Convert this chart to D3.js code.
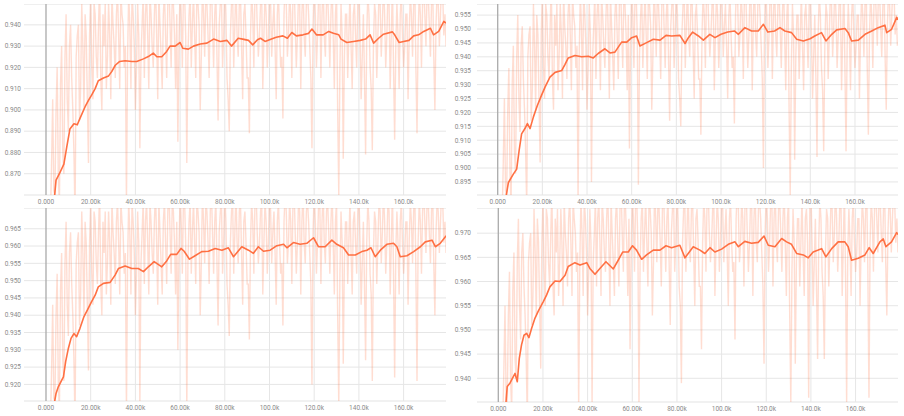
<!DOCTYPE html>
<html>
<head>
<meta charset="utf-8">
<script src="https://cdn.jsdelivr.net/npm/d3@7"></script>
<style>
  html, body { margin: 0; padding: 0; background: #fff; }
  svg { display: block; }
</style>
</head>
<body>
<svg id="chart" width="904" height="416"></svg>
<script>
// ---------------- DATA (steps in thousands) ----------------
const rawSteps = d3.range(2, 180); // logged steps 2k .. 179k (whole thousands)
const midStart = 2.5;              // logged steps 2.5k .. 178.5k (half thousands)
const xTicks = [0, 20, 40, 60, 80, 100, 120, 140, 160];

// Panel 1 (top-left)
const yTicks1 = [0.870, 0.880, 0.890, 0.900, 0.910, 0.920, 0.930, 0.940];
const smoothSteps1 = [3.6,4.5,6,8,9.3,10.7,12.5,14,15.2,17.5,19,20.4,22,23.4,25.7,28,29.4,31,33,35.4,38.4,40.6,43.6,45.8,48,49.6,51.8,54,55.5,57.8,60,61.2,63.7,66,69,72,75,78,81,83,86,88,90.6,92.5,94.6,96,98,100,103,106,108,110,112,115,117.5,119,121,124,126.5,128.6,131,132,134.6,137.6,140.6,143,145,146.6,148.8,151,155,156,158,160,162.4,164.5,166.7,169,172,173.4,175.7,178,179];
const smoothVals1 = [0.857,0.867,0.870,0.8745,0.8826,0.891,0.8935,0.893,0.896,0.9015,0.9045,0.907,0.910,0.9137,0.915,0.916,0.918,0.921,0.9228,0.9231,0.9228,0.9228,0.924,0.9251,0.9267,0.925,0.925,0.9275,0.930,0.930,0.9317,0.929,0.9286,0.930,0.931,0.9314,0.9333,0.9322,0.9327,0.930,0.9337,0.9333,0.9327,0.9306,0.933,0.9337,0.9322,0.933,0.9342,0.9348,0.9337,0.9364,0.9348,0.9353,0.936,0.938,0.9353,0.9353,0.9369,0.936,0.9353,0.9333,0.9317,0.9322,0.9327,0.9333,0.9353,0.9314,0.9337,0.9356,0.9367,0.9353,0.9317,0.9322,0.9327,0.9348,0.9353,0.9369,0.9384,0.9353,0.9369,0.9416,0.9408];
const rawVals1 = [0.850,0.905,0.860,0.920,0.855,0.930,0.870,0.945,0.890,0.940,0.900,0.850,0.935,0.895,0.950,0.900,0.935,0.875,0.955,0.905,0.945,0.915,0.960,0.900,0.930,0.910,0.950,0.905,0.940,0.915,0.955,0.910,0.945,0.920,0.855,0.955,0.910,0.945,0.900,0.950,0.882,0.940,0.915,0.955,0.910,0.945,0.920,0.960,0.905,0.940,0.910,0.955,0.915,0.960,0.920,0.950,0.910,0.885,0.960,0.920,0.955,0.875,0.945,0.920,0.955,0.915,0.950,0.900,0.960,0.925,0.950,0.915,0.960,0.920,0.955,0.895,0.950,0.920,0.960,0.915,0.890,0.950,0.920,0.960,0.925,0.955,0.905,0.950,0.915,0.889,0.955,0.920,0.960,0.925,0.950,0.910,0.955,0.920,0.960,0.925,0.950,0.905,0.955,0.920,0.896,0.960,0.925,0.955,0.915,0.960,0.920,0.955,0.910,0.960,0.925,0.955,0.930,0.882,0.960,0.920,0.955,0.915,0.960,0.925,0.955,0.920,0.960,0.910,0.955,0.860,0.950,0.877,0.945,0.915,0.955,0.910,0.950,0.920,0.960,0.905,0.945,0.879,0.955,0.920,0.881,0.950,0.915,0.955,0.925,0.960,0.920,0.955,0.910,0.960,0.886,0.950,0.910,0.955,0.920,0.945,0.905,0.955,0.925,0.960,0.889,0.955,0.920,0.960,0.930,0.955,0.925,0.960,0.900,0.955,0.930,0.960,0.935,0.930];
const midVals1 = [0.875,0.862,0.900,0.870,0.912,0.880,0.925,0.905,0.930,0.915,
  0.880,0.925,0.940,0.910,0.930,0.945,0.905,0.935,0.920,0.950,
  0.925,0.940,0.915,0.945,0.950,0.925,0.935,0.955,0.930,0.945,
  0.935,0.955,0.940,0.930,0.925,0.940,0.955,0.930,0.920,0.935,
  0.925,0.955,0.945,0.935,0.955,0.930,0.945,0.935,0.955,0.925,
  0.945,0.935,0.950,0.940,0.955,0.935,0.945,0.930,0.945,0.955,
  0.935,0.925,0.955,0.940,0.935,0.955,0.940,0.925,0.945,0.955,
  0.935,0.950,0.940,0.945,0.925,0.940,0.955,0.935,0.945,0.905,
  0.935,0.955,0.940,0.935,0.950,0.930,0.945,0.935,0.915,0.935,
  0.945,0.955,0.940,0.935,0.955,0.935,0.945,0.935,0.950,0.940,
  0.930,0.945,0.935,0.925,0.945,0.950,0.935,0.945,0.955,0.940,
  0.935,0.950,0.945,0.935,0.950,0.945,0.915,0.940,0.945,0.935,
  0.955,0.945,0.935,0.950,0.940,0.945,0.935,0.945,0.900,0.920,
  0.935,0.925,0.945,0.935,0.930,0.945,0.935,0.950,0.935,0.925,
  0.915,0.935,0.945,0.910,0.930,0.945,0.935,0.950,0.940,0.945,
  0.935,0.950,0.935,0.920,0.930,0.935,0.945,0.935,0.930,0.945,
  0.935,0.945,0.950,0.920,0.935,0.945,0.950,0.945,0.955,0.940,
  0.950,0.925,0.940,0.950,0.945,0.955,0.945];

// Panel 2 (top-right)
const yTicks2 = [0.895, 0.900, 0.905, 0.910, 0.915, 0.920, 0.925, 0.930, 0.935, 0.940, 0.945, 0.950, 0.955];
const smoothSteps2 = [3.7,4.8,7,8.5,9.6,10.7,12.2,13.3,14.5,16,17.8,19.7,21.2,23.4,25.7,28.7,30.1,31.6,34.6,37.6,40.6,42.8,45,48,50.3,52.5,55.5,57.8,60,62.2,63.7,66.7,69.7,72.7,75.4,77.9,81.6,83.9,85.4,87.3,89.9,92.1,95,97.3,100,103,106,107.8,110.7,113.7,116.7,119,121,124,126.4,128.6,131.6,133.9,136.9,139.9,142,145,147,149.6,151.8,155.5,157,158.5,161.5,164.5,167.5,170.4,173.4,174.2,176.4,178.7,179.4];
const smoothVals2 = [0.8895,0.8948,0.8978,0.8996,0.9063,0.9123,0.9142,0.916,0.9142,0.9184,0.9226,0.9263,0.9291,0.9327,0.9344,0.9351,0.9372,0.9396,0.9405,0.940,0.9402,0.9396,0.9412,0.9429,0.9414,0.9417,0.9453,0.9453,0.9469,0.9475,0.9439,0.9451,0.9463,0.946,0.9477,0.9475,0.9477,0.9448,0.9469,0.9489,0.9475,0.946,0.9481,0.9469,0.9481,0.9489,0.9493,0.9481,0.9505,0.9493,0.9493,0.9517,0.9489,0.9493,0.9505,0.9493,0.9487,0.9463,0.9457,0.9465,0.9475,0.9487,0.9457,0.9481,0.9497,0.9502,0.9487,0.9457,0.946,0.9481,0.9493,0.9505,0.9514,0.9487,0.9499,0.9542,0.9533];
const rawVals2 = [0.883,0.925,0.890,0.936,0.887,0.944,0.898,0.955,0.913,0.951,0.921,0.886,0.948,0.917,0.959,0.921,0.948,0.902,0.963,0.925,0.955,0.932,0.967,0.921,0.944,0.928,0.959,0.925,0.951,0.932,0.963,0.928,0.955,0.936,0.888,0.963,0.928,0.955,0.921,0.959,0.895,0.951,0.932,0.963,0.928,0.955,0.936,0.967,0.925,0.951,0.928,0.963,0.932,0.967,0.936,0.959,0.928,0.907,0.967,0.936,0.963,0.894,0.955,0.936,0.963,0.932,0.959,0.921,0.967,0.940,0.959,0.932,0.967,0.936,0.963,0.917,0.959,0.936,0.967,0.932,0.915,0.959,0.936,0.967,0.940,0.963,0.925,0.959,0.932,0.912,0.963,0.936,0.967,0.940,0.959,0.928,0.963,0.936,0.967,0.940,0.959,0.925,0.963,0.936,0.916,0.967,0.940,0.963,0.932,0.967,0.936,0.963,0.928,0.967,0.940,0.963,0.944,0.900,0.967,0.936,0.963,0.932,0.967,0.940,0.963,0.936,0.967,0.928,0.963,0.890,0.959,0.903,0.955,0.932,0.963,0.928,0.959,0.936,0.967,0.925,0.955,0.904,0.963,0.936,0.906,0.959,0.932,0.963,0.940,0.967,0.936,0.963,0.928,0.967,0.906,0.959,0.928,0.963,0.936,0.955,0.925,0.963,0.940,0.967,0.912,0.963,0.936,0.967,0.944,0.963,0.940,0.967,0.921,0.963,0.944,0.967,0.948,0.944];
const midVals2 = [0.902,0.892,0.921,0.898,0.930,0.906,0.940,0.925,0.944,0.932,
  0.906,0.940,0.951,0.928,0.944,0.955,0.925,0.948,0.936,0.959,
  0.940,0.951,0.932,0.955,0.959,0.940,0.948,0.963,0.944,0.955,
  0.948,0.963,0.951,0.944,0.940,0.951,0.963,0.944,0.936,0.948,
  0.940,0.963,0.955,0.948,0.963,0.944,0.955,0.948,0.963,0.940,
  0.955,0.948,0.959,0.951,0.963,0.948,0.955,0.944,0.955,0.963,
  0.948,0.940,0.963,0.951,0.948,0.963,0.951,0.940,0.955,0.963,
  0.948,0.959,0.951,0.955,0.940,0.951,0.963,0.948,0.955,0.925,
  0.948,0.963,0.951,0.948,0.959,0.944,0.955,0.948,0.932,0.948,
  0.955,0.963,0.951,0.948,0.963,0.948,0.955,0.948,0.959,0.951,
  0.944,0.955,0.948,0.940,0.955,0.959,0.948,0.955,0.963,0.951,
  0.948,0.959,0.955,0.948,0.959,0.955,0.932,0.951,0.955,0.948,
  0.963,0.955,0.948,0.959,0.951,0.955,0.948,0.955,0.921,0.936,
  0.948,0.940,0.955,0.948,0.944,0.955,0.948,0.959,0.948,0.940,
  0.932,0.948,0.955,0.928,0.944,0.955,0.948,0.959,0.951,0.955,
  0.948,0.959,0.948,0.936,0.944,0.948,0.955,0.948,0.944,0.955,
  0.948,0.955,0.959,0.936,0.948,0.955,0.959,0.955,0.963,0.951,
  0.959,0.940,0.951,0.959,0.955,0.963,0.955];

// Panel 3 (bottom-left)
const yTicks3 = [0.920, 0.925, 0.930, 0.935, 0.940, 0.945, 0.950, 0.955, 0.960, 0.965];
const smoothSteps3 = [3.7,4.5,5.5,7.8,8.8,10,11.2,12.5,13.7,15.2,17,18.5,20.4,22,23.4,25.7,28.7,30.9,32.4,35.4,38.4,41.3,43.6,45.8,48.4,51.8,54,55.8,58.5,60.4,61.8,64.2,66.7,69.7,72.7,75.7,78.7,81.6,83.9,87.6,90.6,92.8,95,97.3,100.3,103.3,106.3,107.8,110.7,113.7,116.7,119.7,121.9,124.9,127.9,130.1,133.1,135.4,138.4,141.3,143.6,145.4,147.3,149.6,152.5,155.5,157,158.5,161.5,164.5,167.5,169.7,172.7,174.2,176.4,178.7,179.7];
const smoothVals3 = [0.9145,0.9174,0.9193,0.9222,0.9266,0.9304,0.9333,0.9347,0.9338,0.9362,0.9396,0.9415,0.9439,0.9458,0.9482,0.9492,0.9495,0.9516,0.9535,0.9542,0.9535,0.9535,0.9526,0.954,0.9555,0.954,0.9557,0.9576,0.9576,0.9593,0.9585,0.9562,0.9572,0.9584,0.9585,0.9593,0.9588,0.9595,0.9569,0.9598,0.9588,0.9579,0.9598,0.9585,0.9588,0.9601,0.9605,0.9595,0.961,0.9605,0.9608,0.9624,0.9598,0.9598,0.9617,0.9605,0.9595,0.9574,0.9574,0.9584,0.9588,0.9595,0.9569,0.9588,0.9605,0.9608,0.9598,0.9569,0.9572,0.9584,0.9598,0.9612,0.9617,0.9598,0.9608,0.9627,0.9634];
const rawVals3 = [0.909,0.943,0.915,0.952,0.912,0.958,0.921,0.967,0.934,0.964,0.940,0.909,0.961,0.937,0.970,0.940,0.961,0.924,0.973,0.943,0.967,0.949,0.976,0.940,0.958,0.946,0.970,0.943,0.964,0.949,0.973,0.946,0.967,0.952,0.912,0.973,0.946,0.967,0.940,0.970,0.914,0.964,0.949,0.973,0.946,0.967,0.952,0.976,0.943,0.964,0.946,0.973,0.949,0.976,0.952,0.970,0.946,0.930,0.976,0.952,0.973,0.913,0.967,0.952,0.973,0.949,0.970,0.940,0.976,0.955,0.970,0.949,0.976,0.952,0.973,0.937,0.970,0.952,0.976,0.949,0.934,0.970,0.952,0.976,0.955,0.973,0.943,0.970,0.949,0.933,0.973,0.952,0.976,0.955,0.970,0.946,0.973,0.952,0.976,0.955,0.970,0.943,0.973,0.952,0.937,0.976,0.955,0.973,0.949,0.976,0.952,0.973,0.946,0.976,0.955,0.973,0.958,0.920,0.976,0.952,0.973,0.949,0.976,0.955,0.973,0.952,0.976,0.946,0.973,0.914,0.970,0.926,0.967,0.949,0.973,0.946,0.970,0.952,0.976,0.943,0.967,0.927,0.973,0.952,0.921,0.970,0.949,0.973,0.955,0.976,0.952,0.973,0.946,0.976,0.922,0.970,0.946,0.973,0.952,0.967,0.943,0.973,0.955,0.976,0.921,0.973,0.952,0.976,0.958,0.973,0.955,0.976,0.940,0.973,0.958,0.976,0.961,0.958];
const midVals3 = [0.924,0.916,0.940,0.921,0.947,0.927,0.955,0.943,0.958,0.949,
  0.927,0.955,0.964,0.946,0.958,0.967,0.943,0.961,0.952,0.970,
  0.955,0.964,0.949,0.967,0.970,0.955,0.961,0.973,0.958,0.967,
  0.961,0.973,0.964,0.958,0.955,0.964,0.973,0.958,0.952,0.961,
  0.955,0.973,0.967,0.961,0.973,0.958,0.967,0.961,0.973,0.955,
  0.967,0.961,0.970,0.964,0.973,0.961,0.967,0.958,0.967,0.973,
  0.961,0.955,0.973,0.964,0.961,0.973,0.964,0.955,0.967,0.973,
  0.961,0.970,0.964,0.967,0.955,0.964,0.973,0.961,0.967,0.943,
  0.961,0.973,0.964,0.961,0.970,0.958,0.967,0.961,0.949,0.961,
  0.967,0.973,0.964,0.961,0.973,0.961,0.967,0.961,0.970,0.964,
  0.958,0.967,0.961,0.955,0.967,0.970,0.961,0.967,0.973,0.964,
  0.961,0.970,0.967,0.961,0.970,0.967,0.949,0.964,0.967,0.961,
  0.973,0.967,0.961,0.970,0.964,0.967,0.961,0.967,0.940,0.952,
  0.961,0.955,0.967,0.961,0.958,0.967,0.961,0.970,0.961,0.955,
  0.949,0.961,0.967,0.946,0.958,0.967,0.961,0.970,0.964,0.967,
  0.961,0.970,0.961,0.952,0.958,0.961,0.967,0.961,0.958,0.967,
  0.961,0.967,0.970,0.952,0.961,0.967,0.970,0.967,0.973,0.964,
  0.970,0.955,0.964,0.970,0.967,0.973,0.967];

// Panel 4 (bottom-right)
const yTicks4 = [0.940, 0.945, 0.950, 0.955, 0.960, 0.965, 0.970];
const smoothSteps4 = [3.4,4,5.2,7.5,8.5,9.4,10.4,11.5,12.7,13.7,14.9,16.4,17.9,20.1,21.6,23.1,25.4,27.6,29.9,31.3,34.3,36.6,39.6,41,43.3,45.5,48.2,51.5,53.7,55.7,58.2,60.1,61.9,64.2,66.4,69.4,72.4,75.1,77.6,81.3,83.6,87.3,90.3,92.5,94.8,97,100,103,106,107.5,110.4,113.4,116.4,119,120.9,123.9,126.9,129.1,131.3,133.6,136.6,138.8,141,143.3,144.8,146.7,149.3,152.2,155.2,156.7,158.2,161.2,164.2,166.1,167.9,170.9,172.4,173.6,176.1,178.4,179.1];
const smoothVals4 = [0.9348,0.9383,0.939,0.941,0.9393,0.9441,0.9469,0.9489,0.9493,0.9484,0.9503,0.9524,0.9539,0.9558,0.9572,0.9589,0.9601,0.96,0.9613,0.9631,0.9639,0.9634,0.9639,0.9627,0.9615,0.9627,0.9641,0.9626,0.9644,0.9661,0.9661,0.9674,0.9665,0.9646,0.9655,0.9665,0.9665,0.9674,0.967,0.9675,0.9649,0.9672,0.9665,0.9658,0.967,0.9661,0.9667,0.9677,0.9682,0.9672,0.9683,0.9679,0.9681,0.9694,0.9675,0.9672,0.9689,0.9682,0.9677,0.9658,0.9655,0.9649,0.9661,0.9665,0.9668,0.9651,0.9668,0.9682,0.9682,0.9672,0.9644,0.9648,0.9655,0.967,0.9658,0.9682,0.9688,0.9672,0.9682,0.9701,0.9697];
const rawVals4 = [0.931,0.955,0.935,0.962,0.933,0.966,0.940,0.973,0.948,0.970,0.953,0.931,0.968,0.951,0.975,0.953,0.968,0.942,0.977,0.955,0.973,0.959,0.979,0.953,0.966,0.957,0.975,0.955,0.970,0.959,0.977,0.957,0.973,0.962,0.934,0.977,0.957,0.973,0.953,0.975,0.935,0.970,0.959,0.977,0.957,0.973,0.962,0.979,0.955,0.970,0.957,0.977,0.959,0.979,0.962,0.975,0.957,0.946,0.979,0.962,0.977,0.935,0.973,0.962,0.977,0.959,0.975,0.953,0.979,0.964,0.975,0.959,0.979,0.962,0.977,0.951,0.975,0.962,0.979,0.959,0.939,0.975,0.962,0.979,0.964,0.977,0.955,0.975,0.959,0.946,0.977,0.962,0.979,0.964,0.975,0.957,0.977,0.962,0.979,0.964,0.975,0.955,0.977,0.962,0.948,0.979,0.964,0.977,0.959,0.979,0.962,0.977,0.957,0.979,0.964,0.977,0.966,0.943,0.979,0.962,0.977,0.959,0.979,0.964,0.977,0.962,0.979,0.957,0.977,0.935,0.975,0.943,0.973,0.959,0.977,0.957,0.975,0.936,0.979,0.955,0.973,0.944,0.977,0.962,0.944,0.975,0.959,0.977,0.964,0.979,0.962,0.977,0.957,0.979,0.935,0.975,0.957,0.977,0.962,0.973,0.955,0.977,0.964,0.979,0.936,0.977,0.962,0.979,0.966,0.977,0.964,0.979,0.953,0.977,0.966,0.979,0.968,0.966];
const midVals4 = [0.942,0.936,0.953,0.940,0.958,0.944,0.964,0.955,0.966,0.959,
  0.944,0.964,0.970,0.957,0.966,0.973,0.955,0.968,0.962,0.975,
  0.964,0.970,0.959,0.973,0.975,0.964,0.968,0.977,0.966,0.973,
  0.968,0.977,0.970,0.966,0.964,0.970,0.977,0.966,0.962,0.968,
  0.964,0.977,0.973,0.968,0.977,0.966,0.973,0.968,0.977,0.964,
  0.973,0.968,0.975,0.970,0.977,0.968,0.973,0.966,0.973,0.977,
  0.968,0.964,0.977,0.970,0.968,0.977,0.970,0.964,0.973,0.977,
  0.968,0.975,0.970,0.973,0.964,0.970,0.977,0.968,0.973,0.955,
  0.968,0.977,0.970,0.968,0.975,0.966,0.973,0.968,0.959,0.968,
  0.973,0.977,0.970,0.968,0.977,0.968,0.973,0.968,0.975,0.970,
  0.966,0.973,0.968,0.964,0.973,0.975,0.968,0.973,0.977,0.970,
  0.968,0.975,0.973,0.968,0.975,0.973,0.959,0.970,0.973,0.968,
  0.977,0.973,0.968,0.975,0.970,0.973,0.968,0.973,0.953,0.962,
  0.968,0.964,0.973,0.968,0.966,0.973,0.968,0.975,0.968,0.964,
  0.959,0.968,0.973,0.957,0.966,0.973,0.968,0.975,0.970,0.973,
  0.968,0.975,0.968,0.962,0.966,0.968,0.973,0.968,0.966,0.973,
  0.968,0.973,0.975,0.962,0.968,0.973,0.975,0.973,0.977,0.970,
  0.975,0.964,0.970,0.975,0.973,0.977,0.973];

// ---------------- LAYOUT ----------------
const panels = [
  { left: 24, right: 446, top: 4, bottom: 195, xDom: [-9.84, 178.97], yDom: [0.860, 0.9498], yTicks: yTicks1,
    sSteps: smoothSteps1, sVals: smoothVals1, raw: rawVals1, mid: midVals1, labelX: 21, xLabelY: 202 },
  { left: 477, right: 898, top: 4, bottom: 195, xDom: [-9.27, 179.27], yDom: [0.8903, 0.959], yTicks: yTicks2,
    sSteps: smoothSteps2, sVals: smoothVals2, raw: rawVals2, mid: midVals2, labelX: 471, xLabelY: 202 },
  { left: 24, right: 446, top: 208, bottom: 401, xDom: [-9.84, 178.97], yDom: [0.9152, 0.971], yTicks: yTicks3,
    sSteps: smoothSteps3, sVals: smoothVals3, raw: rawVals3, mid: midVals3, labelX: 21, xLabelY: 408 },
  { left: 477, right: 898, top: 208, bottom: 402, xDom: [-9.54, 179.0], yDom: [0.9351, 0.9752], yTicks: yTicks4,
    sSteps: smoothSteps4, sVals: smoothVals4, raw: rawVals4, mid: midVals4, labelX: 471, xLabelY: 409 }
];

const COLOR = "#ff7043";
const fmtX = d3.format(".4s");
const fmtY = d3.format(".3f");
const svg = d3.select("#chart");

const defs = svg.append("defs");
defs.append("filter").attr("id", "soft").attr("x", "-5%").attr("y", "-5%").attr("width", "110%").attr("height", "110%")
  .append("feGaussianBlur").attr("stdDeviation", 0.5);

panels.forEach((p, i) => {
  const x = d3.scaleLinear().domain(p.xDom.map(v => v * 1000)).range([p.left, p.right]);
  const y = d3.scaleLinear().domain(p.yDom).range([p.bottom, p.top]);
  const g = svg.append("g");

  defs.append("clipPath").attr("id", "clip" + i)
    .append("rect").attr("x", p.left).attr("y", p.top)
    .attr("width", p.right - p.left).attr("height", p.bottom - p.top);

  // horizontal grid
  g.append("g").selectAll("line").data(p.yTicks).join("line")
    .attr("x1", p.left).attr("x2", p.right)
    .attr("y1", d => y(d)).attr("y2", d => y(d))
    .attr("stroke", "#e6e6e6").attr("stroke-width", 1);
  g.append("line").attr("x1", p.left).attr("x2", p.right).attr("y1", p.top + 0.5).attr("y2", p.top + 0.5)
    .attr("stroke", "#efefef");
  g.append("line").attr("x1", p.left).attr("x2", p.right).attr("y1", p.bottom).attr("y2", p.bottom)
    .attr("stroke", "#e3e3e3");

  // vertical grid
  g.append("g").selectAll("line").data(xTicks.filter(d => d !== 0)).join("line")
    .attr("x1", d => x(d * 1000)).attr("x2", d => x(d * 1000))
    .attr("y1", p.top).attr("y2", p.bottom)
    .attr("stroke", "#e6e6e6").attr("stroke-width", 1);
  g.append("line").attr("x1", x(0)).attr("x2", x(0)).attr("y1", p.top).attr("y2", p.bottom)
    .attr("stroke", "#aaaaaa").attr("stroke-width", 1.3);

  // y labels
  g.append("g").selectAll("text").data(p.yTicks).join("text")
    .attr("x", p.labelX).attr("y", d => y(d)).attr("dy", "0.35em")
    .attr("text-anchor", "end")
    .attr("font-family", "Roboto, 'Noto Sans', sans-serif").attr("font-size", 6.5)
    .attr("fill", "#8a8a8a")
    .text(d => fmtY(d));

  // x labels
  g.append("g").selectAll("text").data(xTicks).join("text")
    .attr("x", d => x(d * 1000)).attr("y", p.xLabelY).attr("dy", "0.35em")
    .attr("text-anchor", "middle")
    .attr("font-family", "Roboto, 'Noto Sans', sans-serif").attr("font-size", 6.5)
    .attr("fill", "#8a8a8a")
    .text(d => fmtX(d * 1000));

  const plot = g.append("g").attr("clip-path", `url(#clip${i})`);

  // raw series: whole-thousand and half-thousand logged points merged by step
  const rawData = d3.zip(rawSteps, p.raw)
    .concat(p.mid.map((v, k) => [midStart + k, v]))
    .sort((a, b) => a[0] - b[0]);
  plot.append("g").attr("filter", "url(#soft)")
    .append("path").datum(rawData)
    .attr("fill", "none").attr("stroke", COLOR).attr("stroke-opacity", 0.24)
    .attr("stroke-width", 1.4)
    .attr("d", d3.line().x(d => x(d[0] * 1000)).y(d => y(d[1])));

  // smoothed series
  const sData = d3.zip(p.sSteps, p.sVals);
  plot.append("path").datum(sData)
    .attr("fill", "none").attr("stroke", COLOR).attr("stroke-width", 1.6)
    .attr("stroke-linejoin", "round")
    .attr("d", d3.line().x(d => x(d[0] * 1000)).y(d => y(d[1])));
});
</script>
</body>
</html>
